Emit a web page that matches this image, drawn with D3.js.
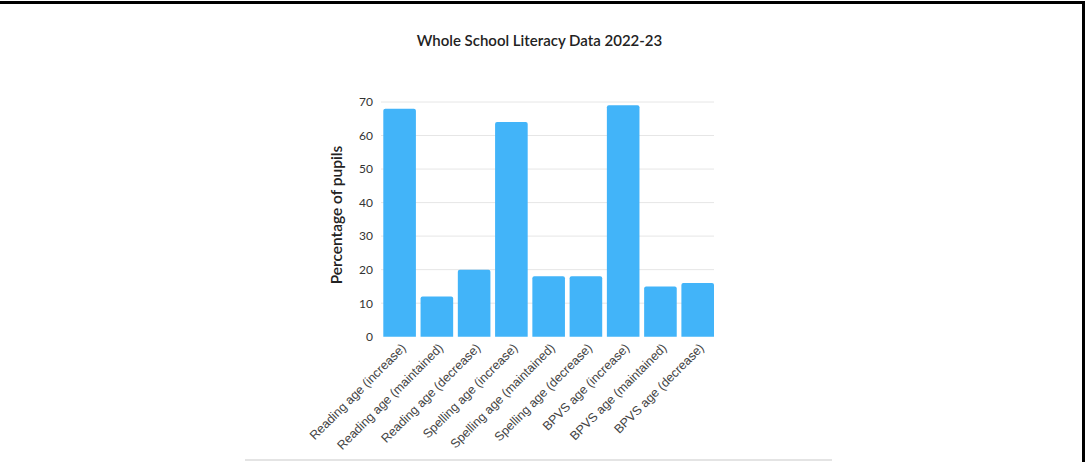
<!DOCTYPE html>
<html>
<head>
<meta charset="utf-8">
<script src="https://cdn.jsdelivr.net/npm/d3@7/dist/d3.min.js"></script>
<style>
  html, body { margin: 0; padding: 0; background: #fff; }
  svg { display: block; }
</style>
</head>
<body>
<svg id="chart" width="1092" height="462"></svg>
<script>
const categories = [
  "Reading age (increase)",
  "Reading age (maintained)",
  "Reading age (decrease)",
  "Spelling age (increase)",
  "Spelling age (maintained)",
  "Spelling age (decrease)",
  "BPVS age (increase)",
  "BPVS age (maintained)",
  "BPVS age (decrease)"
];
const values = [68, 12, 20, 64, 18, 18, 69, 15, 16];
const yTicks = [0, 10, 20, 30, 40, 50, 60, 70];
const title = "Whole School Literacy Data 2022-23";
const yLabel = "Percentage of pupils";

const svg = d3.select("#chart");
const W = 1092, H = 462;

// frame lines
svg.append("rect").attr("x", 0).attr("y", 1).attr("width", 1084).attr("height", 3).attr("fill", "#000");
svg.append("rect").attr("x", 1082).attr("y", 1).attr("width", 3).attr("height", H).attr("fill", "#000");
svg.append("rect").attr("x", 245).attr("y", 459).attr("width", 587).attr("height", 2).attr("fill", "#e4e4e4");

const x = d3.scaleBand().domain(categories).range([383.3, 714]).paddingInner(0.125).paddingOuter(0);
const y = d3.scaleLinear().domain([0, 70]).range([336.7, 102]);

// gridlines
svg.append("g")
  .selectAll("line").data(yTicks.filter(t => t > 0)).join("line")
  .attr("x1", 381).attr("x2", 714)
  .attr("y1", d => y(d)).attr("y2", d => y(d))
  .attr("stroke", "#e6e6e6").attr("stroke-width", 1);

// y axis labels
const yAxis = d3.axisLeft(y).tickValues(yTicks).tickSize(0).tickPadding(0);
const gy = svg.append("g").attr("transform", "translate(373,0)").call(yAxis);
gy.select(".domain").remove();
gy.selectAll("text")
  .attr("font-family", "Lato, 'Open Sans', sans-serif")
  .attr("font-size", 12).attr("fill", "#333");

// bars
svg.append("g").selectAll("path").data(values).join("path")
  .attr("fill", "#42b4f9")
  .attr("d", (d, i) => {
    const x0 = x(categories[i]), w = x.bandwidth(), y0 = y(d), y1 = y(0), r = 2;
    return `M${x0},${y1}V${y0 + r}Q${x0},${y0} ${x0 + r},${y0}H${x0 + w - r}Q${x0 + w},${y0} ${x0 + w},${y0 + r}V${y1}Z`;
  });

// x axis labels
const xAxis = d3.axisBottom(x).tickSize(0).tickPadding(0);
const gx = svg.append("g").attr("transform", `translate(0,${y(0)})`).call(xAxis);
gx.select(".domain").remove();
gx.selectAll("text")
  .attr("font-family", "'Liberation Sans', Arial, sans-serif")
  .attr("font-size", 12.5).attr("fill", "#444")
  .attr("text-anchor", "end")
  .attr("dy", null).attr("y", 0)
  .attr("transform", "translate(7,12) rotate(-45)");

// title
svg.append("text")
  .attr("x", 539.5).attr("y", 46)
  .attr("text-anchor", "middle")
  .attr("font-family", "Lato, 'Open Sans', sans-serif")
  .attr("font-size", 15).attr("font-weight", 600).attr("fill", "#222")
  .text(title);

// y label
svg.append("text")
  .attr("transform", "translate(342,215) rotate(-90)")
  .attr("text-anchor", "middle")
  .attr("font-family", "Lato, 'Open Sans', sans-serif")
  .attr("font-size", 15.5).attr("font-weight", 600).attr("fill", "#222")
  .text(yLabel);
</script>
</body>
</html>
